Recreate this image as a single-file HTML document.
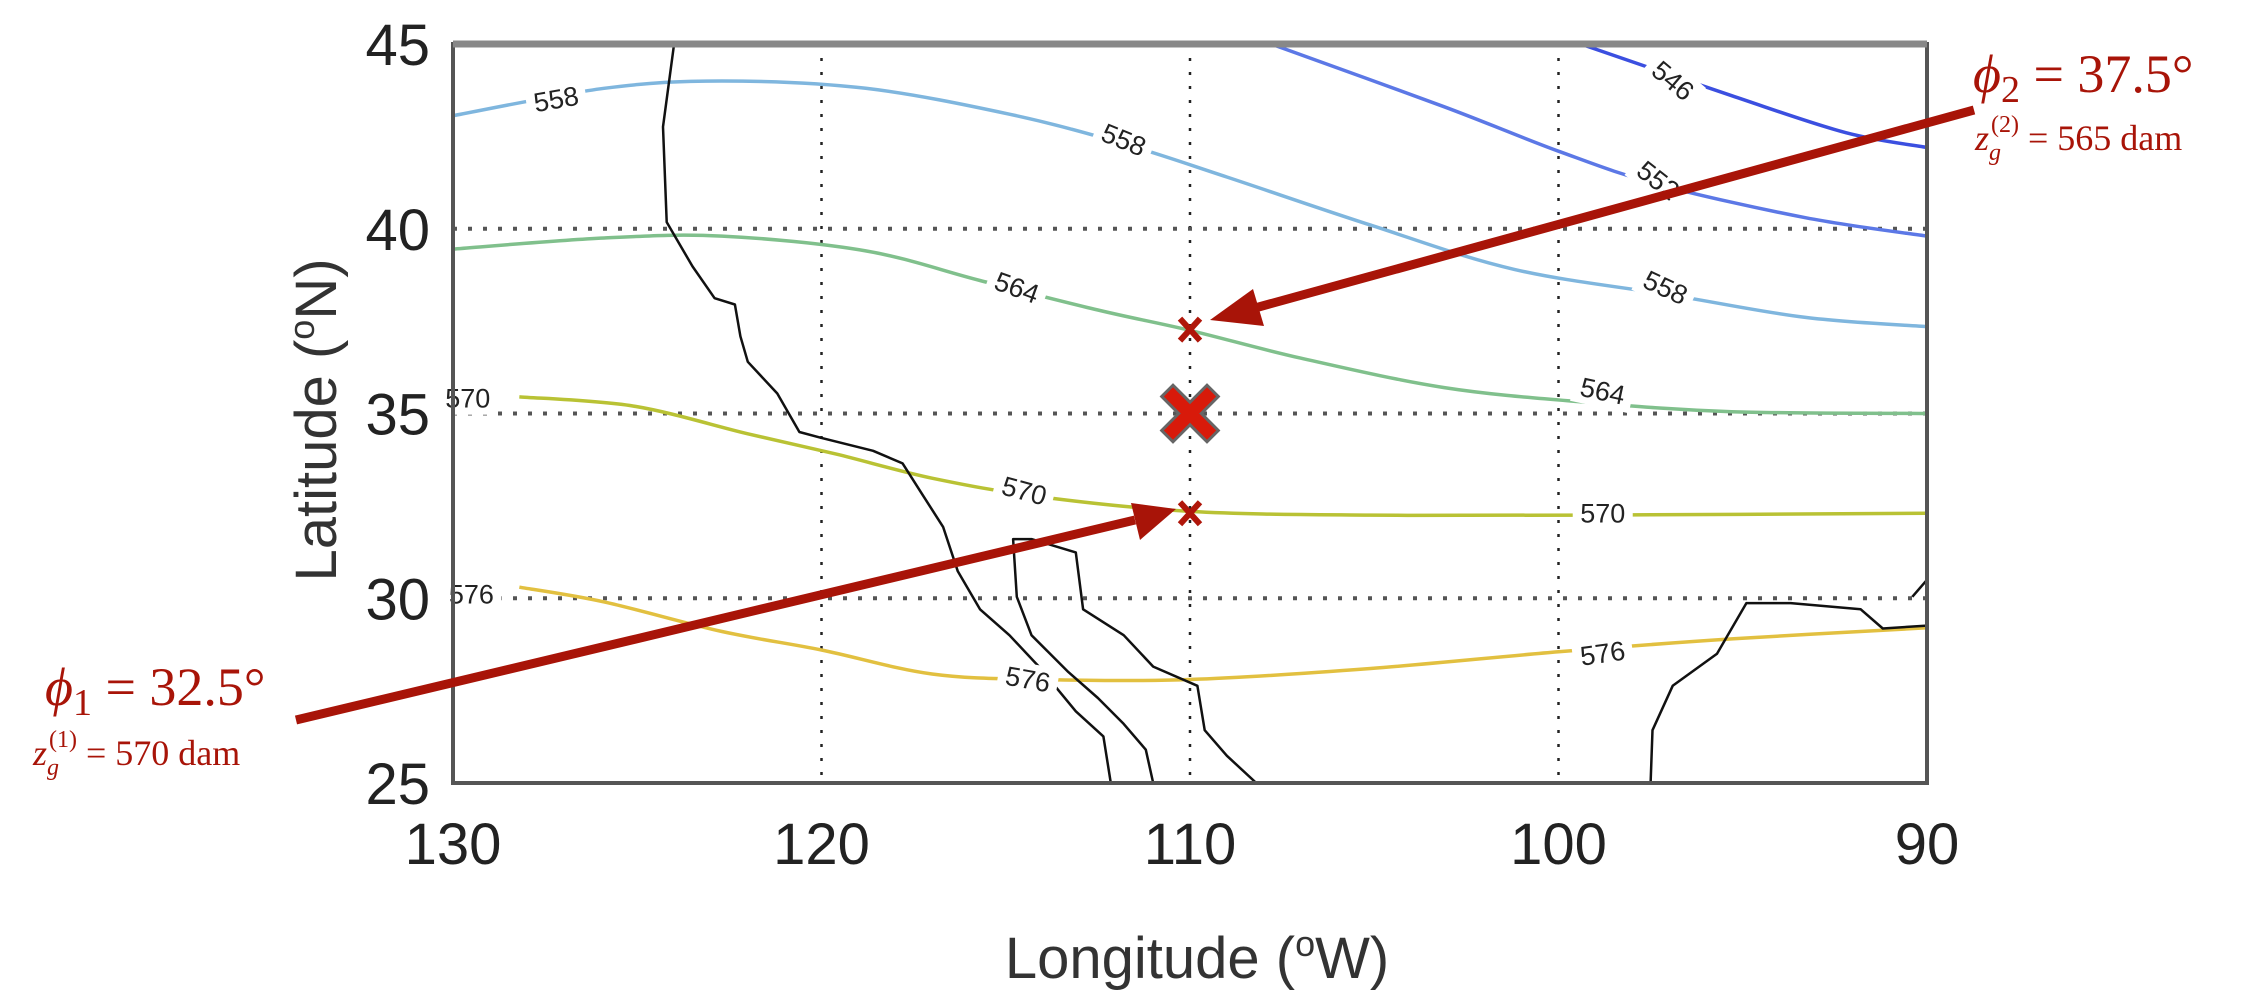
<!DOCTYPE html>
<html><head><meta charset="utf-8"><style>
html,body{margin:0;padding:0;background:#fff;}
svg{display:block;}
</style></head><body>
<svg id="chart" width="2264" height="995" viewBox="0 0 2264 995" xmlns="http://www.w3.org/2000/svg">
<defs>
<clipPath id="plotclip"><rect x="453" y="44" width="1474" height="739"/></clipPath>
</defs>
<g id="grid"></g>
<g id="contours" clip-path="url(#plotclip)"></g>
<g id="coasts" clip-path="url(#plotclip)"></g>
<g id="clabels"></g>
<g id="frame"></g>
<g id="ticks"></g>
<text x="1197" y="978" text-anchor="middle" font-family="Liberation Sans, sans-serif" font-size="58" fill="#333">Longitude (<tspan dy="-22" font-size="36">o</tspan><tspan dy="22">W)</tspan></text>
<text transform="translate(336,420) rotate(-90)" text-anchor="middle" font-family="Liberation Sans, sans-serif" font-size="58" fill="#333">Latitude (<tspan dy="-22" font-size="36">o</tspan><tspan dy="22">N)</tspan></text>
<g id="markers"></g>
<g id="annot"></g>
</svg>
<script>
const NS='http://www.w3.org/2000/svg';
const lonMin=90, lonMax=130, latMin=25, latMax=45;
const xTicks=[130,120,110,100,90];
const yTicks=[25,30,35,40,45];
const contourLevels=[546,552,558,558,564,570,576];
const contourColors=['#3b4fe0','#5c78e6','#7fb6de','#7fb6de','#80c08c','#b9c234','#e2c040'];
const c546=[[99.4,45],[95.3,43.6],[92.2,42.6],[90,42.2]];
const c552=[[107.8,45],[103.1,43.3],[100,42.1],[97.3,41.2],[93.3,40.3],[90,39.8]];
const c558a=[[130,43.06],[125.9,43.8],[122.7,44.0],[118.8,43.8],[114.9,43.1],[111.8,42.3],[109,41.4],[105.1,40.1],[101.2,38.9],[96.9,38.2],[93.3,37.6],[90,37.35]];
const c558b=[];
const c564=[[130,39.45],[125.9,39.75],[122.7,39.8],[118.8,39.4],[115.7,38.6],[112.5,37.8],[110,37.25],[107,36.5],[103.1,35.7],[99.2,35.3],[95.3,35.05],[90,35.0]];
const c570=[[128.2,35.45],[125.1,35.2],[122,34.45],[119.6,33.9],[117,33.25],[114.1,32.75],[110,32.35],[105.1,32.25],[99.2,32.25],[90,32.3]];
const c576=[[128.2,30.3],[125.9,29.9],[122.7,29.1],[120,28.6],[117,27.95],[114,27.8],[110,27.8],[105.1,28.1],[100,28.55],[95.3,28.9],[90,29.2]];
const contourSeries=[c546,c552,c558a,c558b,c564,c570,c576];
const coast1=[[124.0,45.0],[124.3,42.76],[124.2,40.18],[123.5,38.98],[122.9,38.12],[122.35,37.95],[122.2,37.09],[122.0,36.4],[121.2,35.54],[120.6,34.5],[120.0,34.34],[118.6,33.99],[117.8,33.65],[117.25,32.79],[116.7,31.93],[116.3,30.73],[115.7,29.7],[114.9,29.0],[114.1,28.15],[113.1,26.94],[112.35,26.26],[112.15,25.0]];
const coast2=[[111.0,25],[111.2,25.9],[111.8,26.6],[112.5,27.3],[113.3,28.0],[114.3,29.0],[114.7,30.04],[114.8,31.6],[114.3,31.6],[113.1,31.24],[112.9,29.7],[111.8,29.0],[111.0,28.15],[109.8,27.63],[109.6,26.43],[109.0,25.74],[108.2,25]];
const coast3=[[97.5,25],[97.45,26.43],[96.9,27.63],[95.7,28.5],[94.9,29.87],[93.7,29.87],[91.8,29.7],[91.2,29.18],[90,29.26]];
const coast4=[[90.4,30.04],[90,30.5]];
const coastSeries=[coast1,coast2,coast3,coast4];
const labelText=['558','558','546','552','558','564','564','570','570','570','576','576','576'];
const labelLon=[127.2,111.8,96.9,97.3,97.1,114.7,98.8,129.6,114.5,98.8,129.5,114.4,98.8];
const labelLat=[43.5,42.4,44.0,41.3,38.4,38.4,35.6,35.4,32.9,32.3,30.1,27.8,28.5];
const labelRot=[-10,22,40,38,25,20,12,0,15,0,0,10,-8];
const markerLon=[110,110,110];
const markerLat=[37.27,32.3,35];
const markerBig=[false,false,true];

const L=453,R=1927,T=44,B=783;
function X(lon){return L+(lonMax-lon)/(lonMax-lonMin)*(R-L);}
function Y(lat){return T+(latMax-lat)/(latMax-latMin)*(B-T);}
function mk(tag,attrs,parent){const e=document.createElementNS(NS,tag);for(const k in attrs)e.setAttribute(k,attrs[k]);parent.appendChild(e);return e;}
function pathD(pts){let d='';for(let i=0;i<pts.length;i++){d+=(i?'L':'M')+X(pts[i][0]).toFixed(1)+','+Y(pts[i][1]).toFixed(1);}return d;}
function smoothD(pts){if(pts.length<3)return pathD(pts);const p=pts.map(q=>[X(q[0]),Y(q[1])]);let d='M'+p[0][0]+','+p[0][1];for(let i=0;i<p.length-1;i++){const p0=p[i-1]||p[i],p1=p[i],p2=p[i+1],p3=p[i+2]||p2;const c1=[p1[0]+(p2[0]-p0[0])/6,p1[1]+(p2[1]-p0[1])/6],c2=[p2[0]-(p3[0]-p1[0])/6,p2[1]-(p3[1]-p1[1])/6];d+='C'+c1[0].toFixed(1)+','+c1[1].toFixed(1)+' '+c2[0].toFixed(1)+','+c2[1].toFixed(1)+' '+p2[0].toFixed(1)+','+p2[1].toFixed(1);}return d;}

const grid=document.getElementById('grid');
[120,110,100].forEach(v=>{const e=mk('line',{x1:X(v),x2:X(v),y1:T,y2:B,stroke:'#222','stroke-width':2.5,'stroke-dasharray':'3 11'},grid);

});
[40,35,30].forEach(v=>{const e=mk('line',{x1:L,x2:R,y1:Y(v),y2:Y(v),stroke:'#555','stroke-width':4,'stroke-dasharray':'4 11'},grid);

});

const cg=document.getElementById('contours');
contourSeries.forEach((s,i)=>{if(!s.length)return;const e=mk('path',{d:smoothD(s),fill:'none',stroke:contourColors[i],'stroke-width':3.5},cg);

});

const co=document.getElementById('coasts');
coastSeries.forEach((s,i)=>{const e=mk('path',{d:pathD(s),fill:'none',stroke:'#111','stroke-width':2.5,'stroke-linejoin':'round'},co);

});

const cl=document.getElementById('clabels');
labelText.forEach((t,i)=>{const x=X(labelLon[i]),y=Y(labelLat[i]);
const bg=mk('rect',{x:x-30,y:y-16,width:60,height:32,fill:'#fff',transform:'rotate('+labelRot[i]+' '+x+' '+y+')'},cl);


const e=mk('text',{x:x,y:y+9,'text-anchor':'middle','font-family':'Liberation Sans, sans-serif','font-size':27,fill:'#222',transform:'rotate('+labelRot[i]+' '+x+' '+y+')'},cl);e.textContent=t;

});

const fr=document.getElementById('frame');
let f=mk('rect',{x:L,y:T,width:R-L,height:B-T,fill:'none',stroke:'#555','stroke-width':4},fr);


f=mk('line',{x1:L,x2:R,y1:T,y2:T,stroke:'#888','stroke-width':7},fr);



const tk=document.getElementById('ticks');
xTicks.forEach(v=>{const e=mk('text',{x:X(v),y:864,'text-anchor':'middle','font-family':'Liberation Sans, sans-serif','font-size':58,fill:'#222'},tk);e.textContent=v;

});
yTicks.forEach(v=>{const e=mk('text',{x:430,y:Y(v)+21,'text-anchor':'end','font-family':'Liberation Sans, sans-serif','font-size':58,fill:'#222'},tk);e.textContent=v;

});

const mg=document.getElementById('markers');
markerLon.forEach((lo,i)=>{const x=X(lo),y=Y(markerLat[i]);
if(markerBig[i]){const e=mk('path',{d:'M'+(x-17)+','+(y-17)+'L'+(x+17)+','+(y+17)+'M'+(x+17)+','+(y-17)+'L'+(x-17)+','+(y+17),stroke:'#666','stroke-width':19,'stroke-linecap':'square'},mg);


const e2=mk('path',{d:'M'+(x-17)+','+(y-17)+'L'+(x+17)+','+(y+17)+'M'+(x+17)+','+(y-17)+'L'+(x-17)+','+(y+17),stroke:'#d81a0a','stroke-width':13,'stroke-linecap':'square'},mg);

}
else{const e=mk('path',{d:'M'+(x-10)+','+(y-11)+'L'+(x+10)+','+(y+11)+'M'+(x+10)+','+(y-11)+'L'+(x-10)+','+(y+11),stroke:'#b0160a','stroke-width':6},mg);

}});
</script>
<svg style="position:absolute;left:0;top:0" width="2264" height="995">
<g fill="#a81408" stroke="#a81408">
<line x1="1974" y1="110" x2="1255" y2="308" stroke-width="9"/>
<polygon points="1210,320 1253,289 1264,326" stroke="none"/>
<line x1="296" y1="720" x2="1135" y2="520" stroke-width="9"/>
<polygon points="1176,509 1131,503 1140,540" stroke="none"/>
</g>
<g font-family="Liberation Serif, serif" fill="#a81408">
<text x="1973" y="92" font-size="54"><tspan font-style="italic">ϕ</tspan><tspan font-size="38" dy="10">2</tspan><tspan dy="-10"> = 37.5°</tspan></text>
<text x="1975" y="150" font-size="36"><tspan font-style="italic">z</tspan><tspan font-size="24" font-style="italic" dy="10">g</tspan><tspan font-size="24" dy="-28" dx="-10">(2)</tspan><tspan dy="18"> = 565 dam</tspan></text>
<text x="45" y="705" font-size="54"><tspan font-style="italic">ϕ</tspan><tspan font-size="38" dy="10">1</tspan><tspan dy="-10"> = 32.5°</tspan></text>
<text x="33" y="765" font-size="36"><tspan font-style="italic">z</tspan><tspan font-size="24" font-style="italic" dy="10">g</tspan><tspan font-size="24" dy="-28" dx="-10">(1)</tspan><tspan dy="18"> = 570 dam</tspan></text>
</g>
</svg>
</body></html>
